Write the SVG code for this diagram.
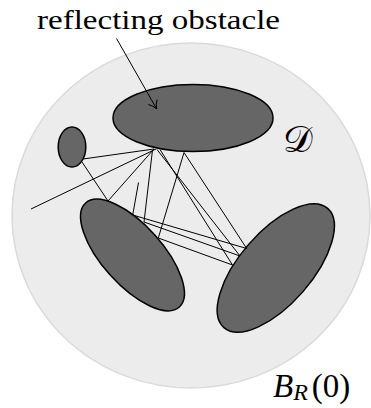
<svg xmlns="http://www.w3.org/2000/svg" width="371" height="408" viewBox="0 0 371 408">
<style>
.obs{fill:#666666;stroke:#000;stroke-width:1.5}
.ray{stroke:#000;stroke-width:1;fill:none}
.lbl{font-family:"Liberation Serif","DejaVu Serif",serif;fill:#000}
</style>
<defs>
<marker id="ah" markerWidth="14" markerHeight="14" refX="10" refY="7" orient="auto" markerUnits="userSpaceOnUse">
<path d="M2,2 Q6,6 10,7 Q6,8 2,12" fill="none" stroke="#000" stroke-width="1"/>
</marker>
</defs>
<g id="ball">
<ellipse cx="191" cy="215.5" rx="179" ry="172.5" fill="#ececec" stroke="#dadada" stroke-width="1.5"/>
</g>
<g id="obstacle-top"><ellipse class="obs" cx="193" cy="118" rx="80" ry="33.5"/></g>
<g id="obstacle-small"><ellipse class="obs" cx="72" cy="147" rx="13.8" ry="20"/></g>
<g id="obstacle-left"><ellipse class="obs" cx="132.5" cy="255" rx="70" ry="30" transform="rotate(48 132.5 255)"/></g>
<g id="obstacle-right"><ellipse class="obs" cx="275.8" cy="268" rx="79" ry="36" transform="rotate(-49 275.8 268)"/></g>
<g id="connectors">
<line class="ray" x1="83" y1="159" x2="154" y2="149"/>
<line class="ray" x1="31" y1="209" x2="156" y2="149"/>
<line class="ray" x1="82" y1="162" x2="108" y2="201"/>
<line class="ray" x1="108" y1="201" x2="154" y2="149"/>
<line class="ray" x1="138.5" y1="182.5" x2="132.7" y2="215"/>
<line class="ray" x1="132.7" y1="215" x2="246.7" y2="248.5"/>
<line class="ray" x1="152.5" y1="150" x2="144" y2="222"/>
<line class="ray" x1="144" y1="222" x2="240" y2="256"/>
<line class="ray" x1="184" y1="152.5" x2="158.3" y2="238"/>
<line class="ray" x1="158.3" y1="238" x2="232.5" y2="265"/>
<line class="ray" x1="160" y1="149.5" x2="232.5" y2="265"/>
<line class="ray" x1="157" y1="149.5" x2="240" y2="256"/>
<line class="ray" x1="184" y1="152.5" x2="246.7" y2="248.5"/>
<line class="ray" x1="116.5" y1="38.5" x2="156.7" y2="109" marker-end="url(#ah)"/>
</g>
<g id="labels">
<text class="lbl" x="37" y="28.5" font-size="26.5" textLength="243" lengthAdjust="spacingAndGlyphs">reflecting obstacle</text>
<text class="lbl" x="283" y="152" font-size="37" font-family="DejaVu Serif,serif">𝒟</text>
<text class="lbl" x="273" y="396.5" font-size="33"><tspan font-style="italic">B</tspan><tspan font-style="italic" font-size="24" dy="3">R</tspan><tspan dx="4" dy="-3">(0)</tspan></text>
</g>
</svg>
